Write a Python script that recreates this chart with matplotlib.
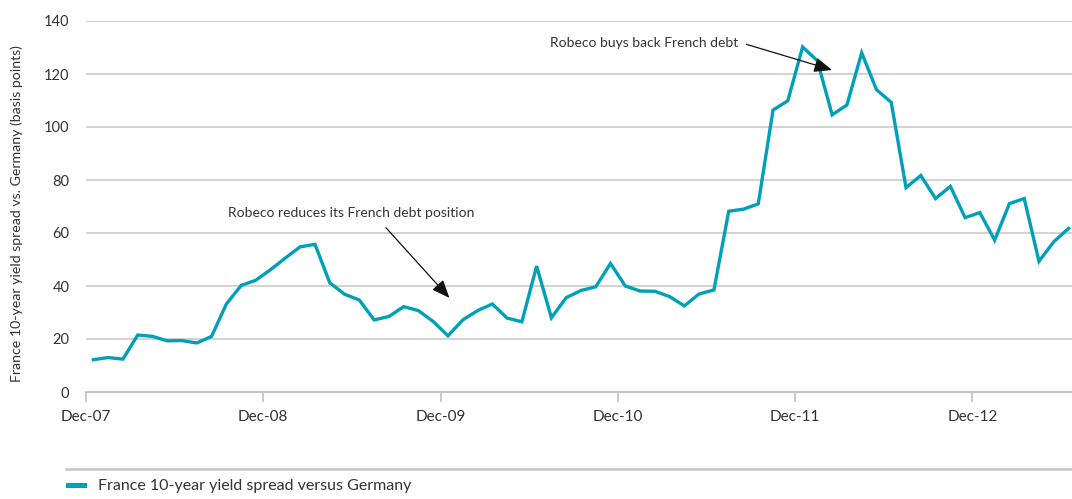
import matplotlib
matplotlib.use("Agg")
import matplotlib.pyplot as plt
from matplotlib.patches import Rectangle
from matplotlib.lines import Line2D

plt.rcParams['font.family'] = ['Lato', 'DejaVu Sans']

# Monthly spread, Dec-07 .. Jun-13 (basis points)
spread = [12.2, 13.0, 12.4, 21.5, 21.0, 19.3, 19.4, 18.5, 21.0, 33.2,
          40.2, 42.2, 46.2, 50.6, 54.8, 55.7, 41.2, 36.9, 34.7, 27.2,
          28.5, 32.2, 30.7, 26.6, 21.2, 27.2, 30.7, 33.2, 27.9, 26.5,
          47.5, 28.0, 35.6, 38.3, 39.7, 48.5, 40.0, 38.1, 38.0, 36.0,
          32.5, 37.0, 38.5, 68.2, 69.0, 71.0, 106.4, 109.9, 130.2, 125.0,
          104.6, 108.3, 128.0, 114.1, 109.3, 77.1, 81.7, 73.0, 77.6, 65.8,
          67.7, 57.3, 71.1, 73.0, 49.3, 56.7, 61.7]
tick_labels = ["Dec-07", "Dec-08", "Dec-09", "Dec-10", "Dec-11", "Dec-12"]
y_ticks = [0, 20, 40, 60, 80, 100, 120, 140]
series_name = "France 10-year yield spread versus Germany"
y_title = "France 10-year yield spread vs. Germany (basis points)"
note_reduce = "Robeco reduces its French debt position"
note_buy = "Robeco buys back French debt"

line_color = "#00A0B6"
grid_color = "#C9C5C5"
text_color = "#333333"

fig = plt.figure(figsize=(10.72, 4.99), dpi=100)
ax = fig.add_axes([86/1072, 1 - 392/499, (1072-86)/1072, (392-21)/499])

x = [i + 0.5 for i in range(len(spread))]
ax.plot(x, spread, color=line_color, lw=2.4, solid_joinstyle='miter', zorder=3)

ax.set_xlim(0, (1072-86)/14.775)
ax.set_ylim(0, 140)
ax.set_yticks(y_ticks)
ax.set_yticklabels([str(v) for v in y_ticks], fontsize=10.5, color=text_color)
ax.set_xticks([12*i for i in range(len(tick_labels))])
ax.set_xticklabels(tick_labels, fontsize=11, color=text_color)
ax.tick_params(axis='y', length=0, pad=12)
ax.tick_params(axis='x', length=7, width=1.3, color=grid_color, pad=6)
ax.grid(axis='y', color=grid_color, lw=1.1, zorder=0)
for s in ['top', 'right', 'left']:
    ax.spines[s].set_visible(False)
ax.spines['bottom'].set_color(grid_color)
ax.spines['bottom'].set_linewidth(1.5)
ax.set_ylabel(y_title, fontsize=10.2, color=text_color)
ax.yaxis.set_label_coords(-63/986, 0.48)

ax.text(17.95, 67.5, note_reduce, ha='center', va='center', fontsize=10, color=text_color)
ax.annotate('', xy=(24.6, 35.5), xytext=(20.3, 62.0),
            arrowprops=dict(arrowstyle='-|>,head_length=1.1,head_width=0.45', color='#111111', lw=0.9,
                            shrinkA=0, shrinkB=0), zorder=5)
ax.text(37.8, 131.7, note_buy, ha='center', va='center', fontsize=10, color=text_color)
ax.annotate('', xy=(50.5, 121.5), xytext=(44.7, 131.2),
            arrowprops=dict(arrowstyle='-|>,head_length=1.1,head_width=0.45', color='#111111', lw=0.9,
                            shrinkA=0, shrinkB=0), zorder=5)

# legend area
fig.add_artist(Line2D([66/1072, 1.0], [1 - 469/499, 1 - 469/499], color=grid_color, lw=1.8))
fig.add_artist(Rectangle((66/1072, 1 - 488/499), 21/1072, 5/499, color=line_color, lw=0))
fig.text(98/1072, 1 - 486/499, series_name, ha='left', va='center', fontsize=11.5, color=text_color)

fig.savefig("out.png", dpi=100)
